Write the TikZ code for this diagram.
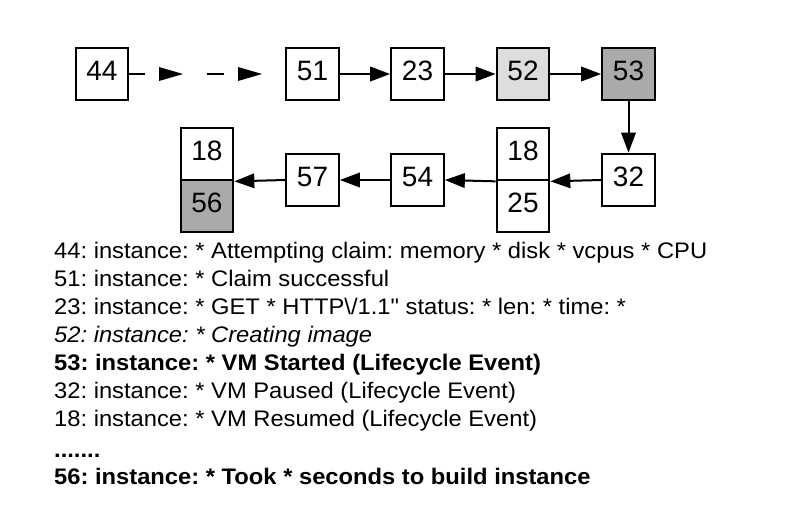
\documentclass[tikz,border=0pt]{standalone}
\usepackage{fontspec}
\setmainfont{Liberation Sans}
\newfontfamily\logfont{Liberation Sans}[FakeStretch=1.055]
\usetikzlibrary{arrows.meta}
\definecolor{lightfill}{HTML}{DDDDDD}
\definecolor{darkfill}{HTML}{AAAAAA}
\frenchspacing
\begin{document}
\begin{tikzpicture}[x=1pt,y=-1pt,
  box/.style={draw, line width=2.2pt, minimum width=52.5pt, minimum height=52.5pt,
    inner sep=0pt, text height=20pt, text depth=7pt,
    font=\fontsize{28}{30}\selectfont, anchor=center},
  link/.style={line width=2pt, -{Triangle[length=20pt,width=14.5pt]}},
  plainline/.style={line width=2pt},
  headtri/.style={fill=black, draw=none},
  logline/.style={anchor=base west, inner sep=0pt, font=\logfont\fontsize{22.5}{27}\selectfont}
]
\useasboundingbox (0,0) rectangle (797,506);

% top row
\node[box] (n44) at (102,74) {44};
\node[box] (n51) at (312.5,74) {51};
\node[box] (n23) at (417.5,74) {23};
\node[box, fill=lightfill] (n52) at (523,74) {52};
\node[box, fill=darkfill] (n53) at (628.5,74) {53};

% bottom row
\node[box] (n32) at (628.5,180) {32};
\node[box] (n18a) at (523,154) {18};
\node[box] (n25) at (523,206) {25};
\node[box] (n54) at (417.5,180) {54};
\node[box] (n57) at (312.5,180) {57};
\node[box] (n18b) at (207,154) {18};
\node[box, fill=darkfill] (n56) at (207,206) {56};

% dashed connector 44 -> 51
\coordinate (d1) at (145,74);
\coordinate (d2a) at (206.7,74);
\coordinate (d2b) at (224,74);
\draw[plainline] (n44.east) -- (d1);
\draw[plainline] (d2a) -- (d2b);
\fill[headtri] (159,67) -- (183,74) -- (159,81) -- cycle;
\fill[headtri] (238,67) -- (262,74) -- (238,81) -- cycle;

% solid connectors
\draw[link] (n51) -- (n23);
\draw[link] (n23) -- (n52);
\draw[link] (n52) -- (n53);
\draw[link] (n53) -- (n32);
\draw[link] (n32.west) -- (n18a.south east);
\draw[link] (n18a.south west) -- (n54.east);
\draw[link] (n54) -- (n57);
\draw[link] (n57.west) -- (n18b.south east);

% log lines
\node[logline] (l1) at (54,258.3) {44: instance: * Attempting claim: memory * disk * vcpus * CPU};
\node[logline] (l2) at (54,286.4) {51: instance: * Claim successful};
\node[logline] (l3) at (54,314.5) {23: instance: * GET * HTTP\textbackslash/1.1\symbol{34} status: * len: * time: *};
\node[logline, font=\logfont\fontsize{22.5}{27}\selectfont\itshape] (l4) at (54,342.5) {52: instance: * Creating image};
\node[logline, font=\logfont\fontsize{22.5}{27}\selectfont\bfseries] (l5) at (54,370.6) {53: instance: * VM Started (Lifecycle Event)};
\node[logline] (l6) at (54,398.7) {32: instance: * VM Paused (Lifecycle Event)};
\node[logline] (l7) at (54,426.7) {18: instance: * VM Resumed (Lifecycle Event)};
\node[logline, font=\logfont\fontsize{22.5}{27}\selectfont\bfseries] (l8) at (54,457) {.......};
\node[logline, font=\logfont\fontsize{22.5}{27}\selectfont\bfseries] (l9) at (54,484) {56: instance: * Took * seconds to build instance};
\end{tikzpicture}
\end{document}
